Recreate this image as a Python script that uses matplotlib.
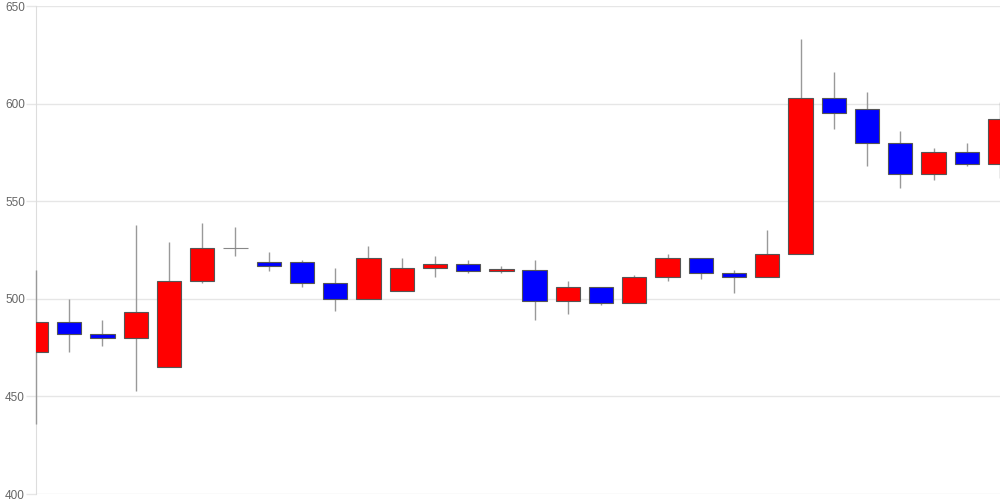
import matplotlib
matplotlib.use("Agg")
import matplotlib.pyplot as plt
import numpy as np

opens  = [473, 488, 482, 480, 465, 509, 526, 519, 519, 508, 500, 504, 516, 518, 514,
          515, 499, 506, 498, 511, 521, 513, 511, 523, 603, 597, 580, 564, 575, 569]
closes = [488, 482, 480, 493, 509, 526, 526, 517, 508, 500, 521, 516, 518, 514, 515.4,
          499, 506, 498, 511, 521, 513, 511, 523, 603, 595, 580, 564, 575, 569, 592]
highs  = [515, 500, 489, 538, 529, 539, 537, 524, 520, 516, 527, 521, 522, 520, 517,
          520, 509, 506, 512, 523, 521, 515, 535, 633, 616, 606, 586, 577, 580, 601]
lows   = [436, 473, 476, 453, 465, 508, 522, 514, 506, 494, 500, 504, 511, 513, 513,
          489, 492, 497, 498, 509, 510, 503, 511, 523, 587, 568, 557, 561, 568, 562]
yticks = [400, 450, 500, 550, 600, 650]

plt.rcParams['font.family'] = ['Liberation Sans', 'DejaVu Sans']
fig = plt.figure(figsize=(10, 5), dpi=100)
ax = fig.add_axes([0.036, 0.012, 0.964, 0.976])

x = np.arange(len(opens))
o = np.array(opens, dtype=float)
c = np.array(closes, dtype=float)
h = np.array(highs, dtype=float)
l = np.array(lows, dtype=float)

ax.vlines(x, l, h, color='#999999', linewidth=1, zorder=2.6, clip_on=False)
colors = []
for oi, ci in zip(o, c):
    if ci > oi:
        colors.append('#ff0000')
    elif ci < oi:
        colors.append('#0000ff')
    else:
        colors.append('#888888')
bottoms = np.minimum(o, c)
heights = np.abs(c - o)
ax.bar(x, heights, bottom=bottoms, width=0.73, color=colors,
       edgecolor=['#555555' if hh > 0 else '#888888' for hh in heights],
       linewidth=0.8, zorder=3)

ax.set_xlim(0, len(opens) - 1)
ax.set_ylim(400, 650)
ax.set_yticks(yticks)
ax.set_xticks([])
ax.grid(axis='y', color='#e6e6e6', linewidth=1, zorder=0)
ax.set_axisbelow(True)
for s in ['top', 'right', 'bottom']:
    ax.spines[s].set_visible(False)
ax.spines['left'].set_color('#dddddd')
ax.tick_params(axis='y', colors='#e6e6e6', length=7, width=1, pad=1, labelsize=8.5,
               labelcolor='#666666')

fig.savefig('out.png', dpi=100)
